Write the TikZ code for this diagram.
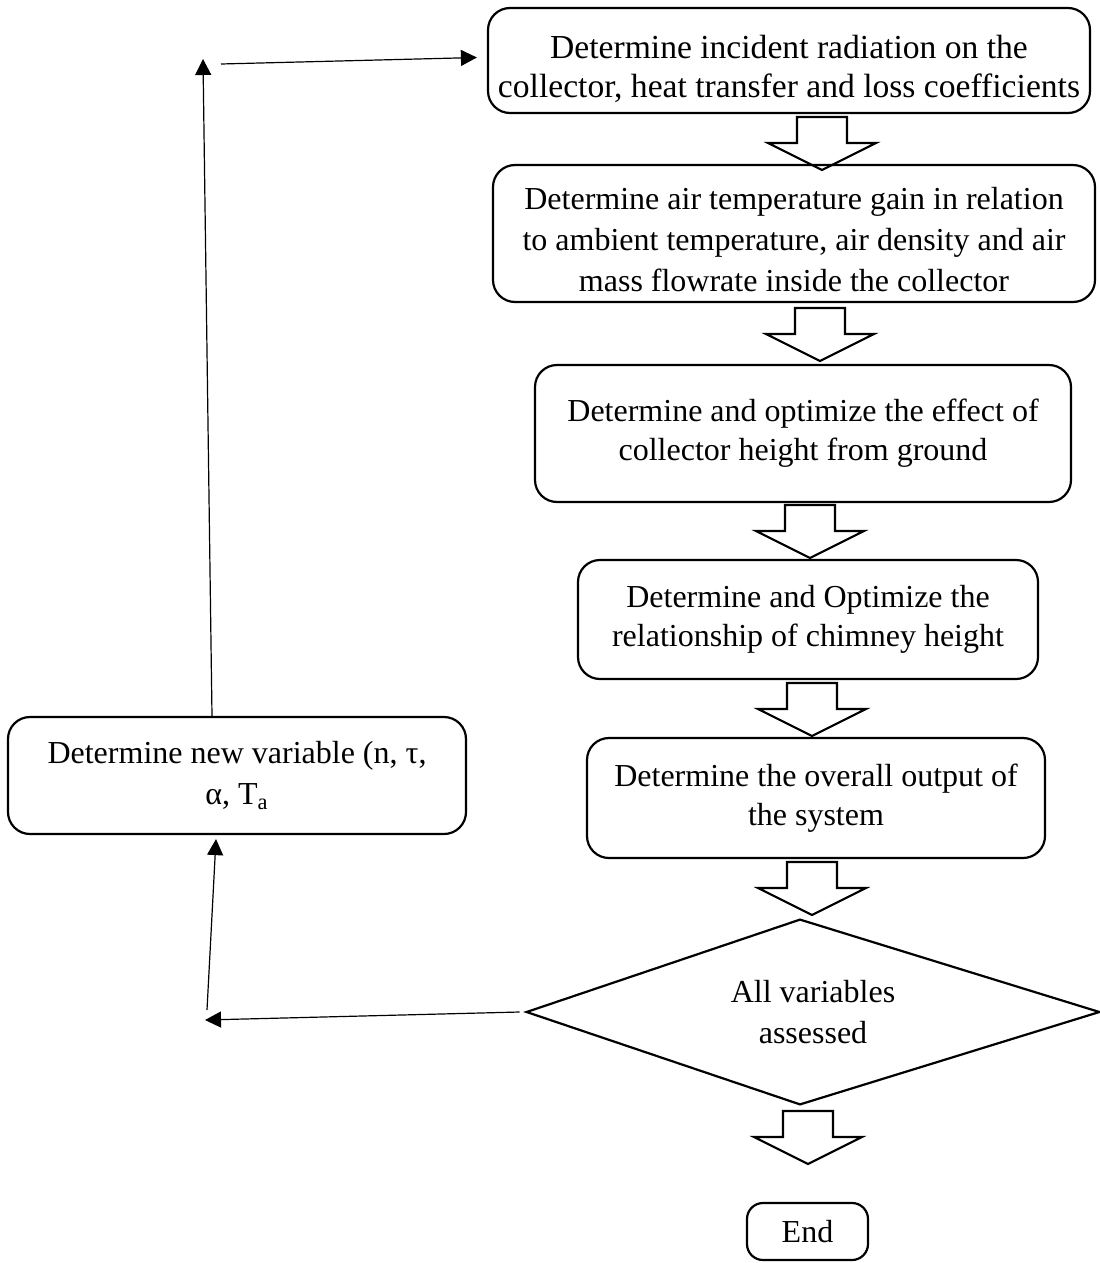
\documentclass[tikz,border=0pt]{standalone}
\usepackage{fontspec}
\setmainfont{Liberation Serif}
\usetikzlibrary{arrows.meta}
\newcommand{\lowtext}[1]{\rule{0pt}{#1}}
\tikzset{
  stepbox/.style={draw, line width=1.1pt, rounded corners=11pt, align=center,
    inner sep=0pt, font=\fontsize{16}{19.5}\selectfont},
  decision/.style={inner sep=0pt, align=center, font=\fontsize{16}{20.5}\selectfont},
  conn/.style={line width=0.6pt, -{Triangle[length=8pt,width=8pt]}},
  downarrow/.pic={\draw[line width=1.1pt] (-25,0) -- (25,0) -- (25,26) -- (54,26)
    -- (0,53) -- (-54,26) -- (-25,26) -- cycle;}
}
\begin{document}
\begin{tikzpicture}[x=0.5pt,y=-0.5pt]
        \useasboundingbox (0,0) rectangle (1099,1263);
        % Colonna principale
        \node[stepbox, font=\fontsize{16.8}{19.5}\selectfont, minimum width=301pt, minimum height=52.5pt] (incident) at (789,60.5)
            {\lowtext{20pt}Determine incident radiation on the\\collector, heat transfer and loss coefficients};
        \node[stepbox, font=\fontsize{16}{20.5}\selectfont, minimum width=301pt, minimum height=68.5pt] (airgain) at (794,233.5)
            {\lowtext{17pt}Determine air temperature gain in relation\\to ambient temperature, air density and air\\mass flowrate inside the collector};
        \node[stepbox, minimum width=268pt, minimum height=68.5pt] (colheight) at (803,433.5)
            {Determine and optimize the effect of\\collector height from ground};
        \node[stepbox, minimum width=230pt, minimum height=59.5pt] (chimney) at (808,619.5)
            {Determine and Optimize the\\relationship of chimney height};
        \node[stepbox, minimum width=229pt, minimum height=60pt] (output) at (816,798)
            {Determine the overall output of\\the system};
        % Rombo di decisione
        \node[decision, minimum width=286pt, minimum height=92pt] (assessed) at (813,1012)
            {All variables\\assessed};
        \draw[line width=1.1pt] (assessed.west) -- ([xshift=-6.5pt]assessed.north)
            -- (assessed.east) -- ([xshift=-6.5pt]assessed.south) -- cycle;
        \node[stepbox, rounded corners=8pt, minimum width=60.5pt, minimum height=28.5pt] (end) at (807.5,1231.5)
            {End};
        % Frecce a blocco tra i passi
        \pic at (822,117) {downarrow};
        \pic at (820,308) {downarrow};
        \pic at (810,505) {downarrow};
        \pic at (812,683) {downarrow};
        \pic at (812,862) {downarrow};
        \pic at (808,1111) {downarrow};
        % Ciclo a sinistra
        \node[stepbox, font=\fontsize{16}{20.5}\selectfont, minimum width=229pt, minimum height=58.5pt] (newvar) at (237,775.5)
            {Determine new variable (n, τ,\\α, T\textsubscript{a}};
        \coordinate (topup) at (203,59);
        \coordinate (topright) at (221,64);
        \coordinate (botleft) at (205,1020);
        \coordinate (botup) at (207,1010);
        \draw[conn] ([xshift=-12.5pt]newvar.north) -- (topup);
        \draw[conn] (topright) -- ([shift={(-5pt,1.5pt)}]incident.west);
        \draw[conn] ([xshift=-3.5pt]assessed.west) -- (botleft);
        \draw[conn] (botup) -- ([shift={(-10.5pt,-2pt)}]newvar.south);
\end{tikzpicture}
\end{document}
